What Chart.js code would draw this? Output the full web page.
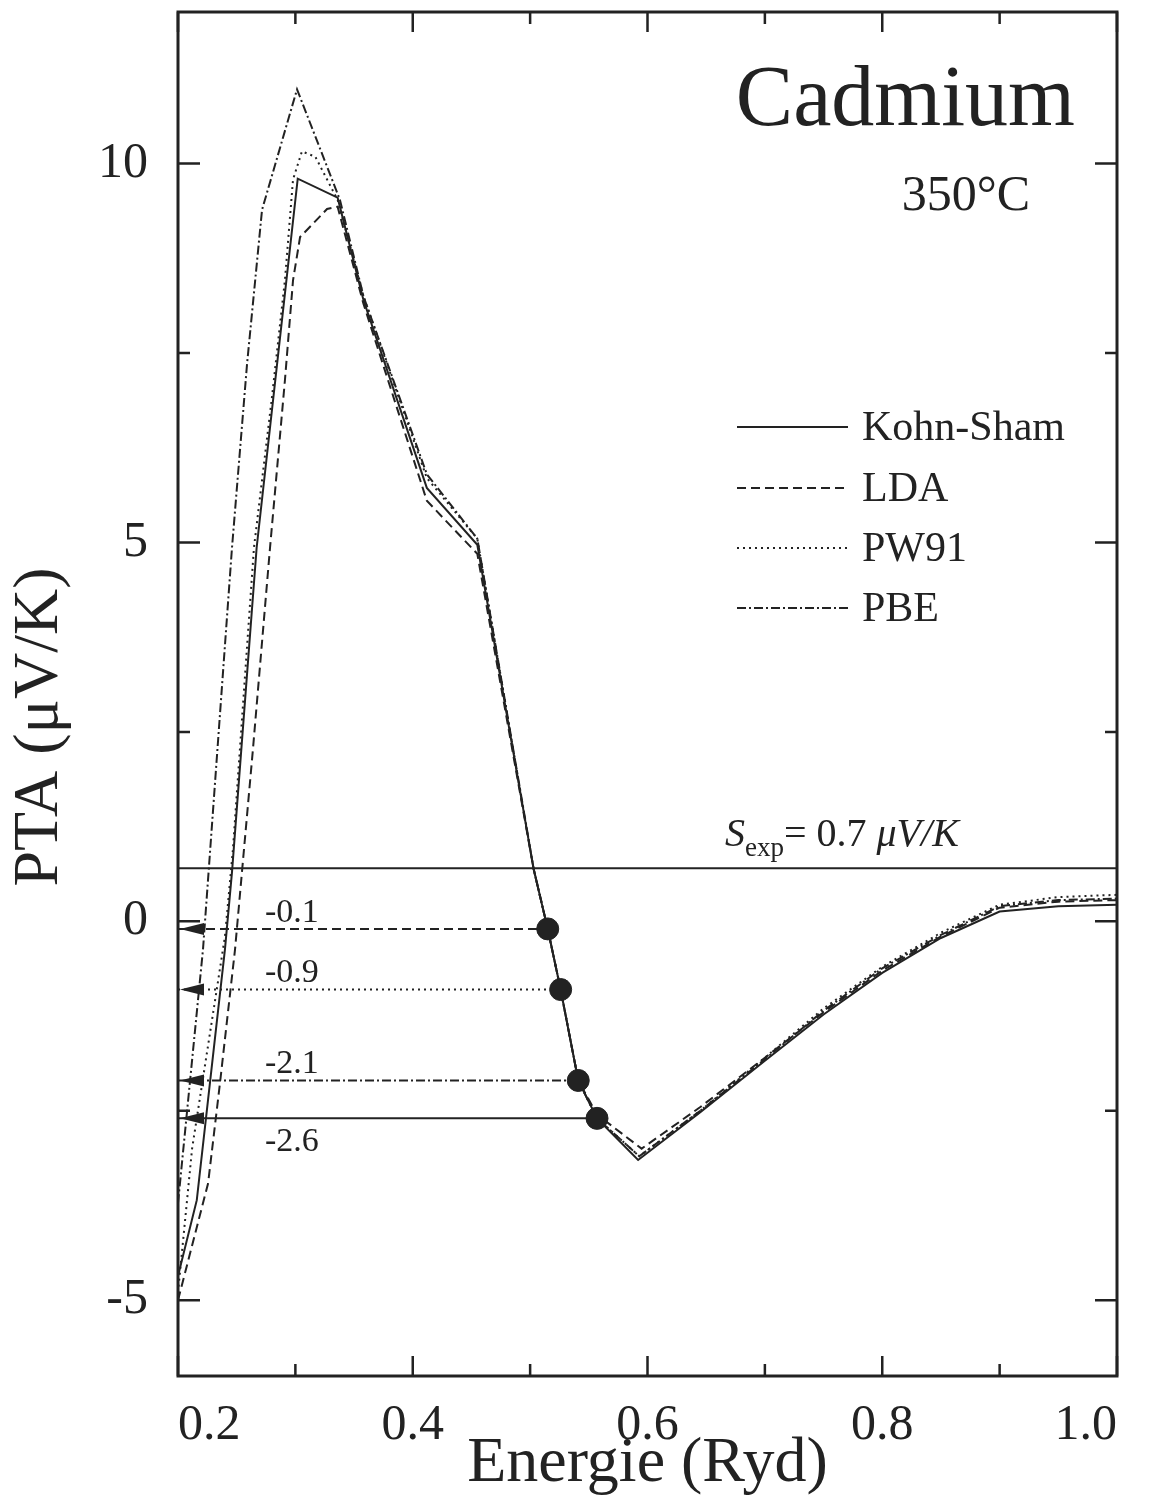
<!DOCTYPE html>
<html lang="fr">
<head>
  <meta charset="UTF-8" />
  <title>Cadmium 350°C - PTA</title>
  <script src="https://cdn.jsdelivr.net/npm/chart.js"></script>
  <style>
    html, body { margin: 0; padding: 0; background: #fff; }
    #wrap { width: 1161px; height: 1505px; }
  </style>
</head>
<body>
  <div id="wrap"><canvas id="ptaChart" width="1161" height="1505"></canvas></div>

  <script>
    // values: energy (Ryd) -> PTA (µV/K)
    const ksEnergy = [0.2, 0.216, 0.24, 0.246, 0.267, 0.302, 0.336, 0.358, 0.412, 0.455, 0.503, 0.515, 0.526, 0.541, 0.557, 0.592, 0.645, 0.7, 0.75, 0.8, 0.85, 0.9, 0.95, 1.0];
    const ksPTA    = [-4.68, -3.68, -0.37, 0.65, 4.93, 9.8, 9.55, 8.2, 5.72, 4.97, 0.69, -0.1, -0.9, -2.1, -2.6, -3.15, -2.52, -1.84, -1.23, -0.68, -0.22, 0.13, 0.2, 0.22];

    const ldaEnergy = [0.2, 0.2256, 0.2358, 0.2486, 0.2639, 0.2784, 0.2911, 0.298, 0.304, 0.327, 0.336, 0.358, 0.412, 0.455, 0.503, 0.515, 0.526, 0.541, 0.557, 0.595, 0.645, 0.7, 0.75, 0.8, 0.85, 0.9, 0.95, 1.0];
    const ldaPTA    = [-5.0, -3.46, -2.13, -0.37, 2.28, 4.93, 7.14, 8.46, 9.03, 9.4, 9.43, 8.15, 5.55, 4.85, 0.69, -0.1, -0.9, -2.1, -2.55, -3.0, -2.45, -1.8, -1.2, -0.65, -0.2, 0.18, 0.26, 0.28];

    const pw91Energy = [0.2, 0.212, 0.24, 0.2468, 0.2647, 0.28, 0.2911, 0.298, 0.3056, 0.317, 0.336, 0.358, 0.412, 0.455, 0.503, 0.515, 0.526, 0.541, 0.557, 0.593, 0.645, 0.7, 0.75, 0.8, 0.85, 0.9, 0.95, 1.0];
    const pw91PTA    = [-4.9, -3.0, -0.2, 0.95, 4.93, 6.91, 8.46, 9.79, 10.16, 10.09, 9.52, 8.25, 5.85, 5.05, 0.69, -0.1, -0.9, -2.1, -2.6, -3.1, -2.5, -1.8, -1.15, -0.6, -0.15, 0.22, 0.32, 0.35];

    const pbeEnergy = [0.2, 0.2213, 0.246, 0.2588, 0.2716, 0.3014, 0.338, 0.358, 0.412, 0.455, 0.503, 0.515, 0.526, 0.541, 0.557, 0.593, 0.645, 0.7, 0.75, 0.8, 0.85, 0.9, 0.95, 1.0];
    const pbePTA    = [-3.72, -0.37, 4.93, 7.35, 9.39, 10.98, 9.52, 8.25, 5.9, 5.05, 0.69, -0.1, -0.9, -2.1, -2.6, -3.1, -2.5, -1.82, -1.18, -0.62, -0.18, 0.2, 0.28, 0.3];

    const sExp = 0.7;

    // marked points (LDA, PW91, PBE, Kohn-Sham) and their values
    const markEnergy = [0.515, 0.526, 0.541, 0.557];
    const markPTA    = [-0.1, -0.9, -2.1, -2.6];
    const markLabels = ['-0.1', '-0.9', '-2.1', '-2.6'];

    const xLabelTicks = [0.2, 0.4, 0.6, 0.8, 1.0];
    const xMinorTicks = [0.3, 0.5, 0.7, 0.9];
    const yLabelTicks = [-5, 0, 5, 10];
    const yMinorTicks = [-2.5, 2.5, 7.5];

    const ink = '#222';
    const serif = "'Liberation Serif', 'DejaVu Serif', serif";
    const dashes = { ks: [], lda: [9, 5], pw91: [2, 4], pbe: [9, 3, 2, 3] };

    const pts = (xs, ys) => xs.map((e, i) => ({ x: e, y: ys[i] }));

    const curve = (label, xs, ys, dash) => ({
      label, data: pts(xs, ys), borderColor: ink, borderWidth: 2,
      borderDash: dash, pointRadius: 0, tension: 0, fill: false, order: 2, inLegend: true
    });

    const markDash = [dashes.lda, dashes.pw91, dashes.pbe, dashes.ks];
    const markLines = markPTA.map((v, i) => ({
      label: 'mark' + i, data: [{ x: 0.2, y: v }, { x: markEnergy[i], y: v }],
      borderColor: ink, borderWidth: 2, borderDash: markDash[i], pointRadius: 0, order: 3
    }));

    const datasets = [
      curve('Kohn-Sham', ksEnergy, ksPTA, dashes.ks),
      curve('LDA', ldaEnergy, ldaPTA, dashes.lda),
      curve('PW91', pw91Energy, pw91PTA, dashes.pw91),
      curve('PBE', pbeEnergy, pbePTA, dashes.pbe),
      { label: 'Sexp', data: [{ x: 0.2, y: sExp }, { x: 1.0, y: sExp }], borderColor: ink, borderWidth: 2, pointRadius: 0, order: 3 },
      ...markLines,
      { label: 'marks', data: pts(markEnergy, markPTA), showLine: false, pointRadius: 11,
        pointBackgroundColor: '#222', pointBorderColor: '#222', order: 0 }
    ];

    const decor = {
      id: 'decor',
      afterDraw(chart) {
        const { ctx, chartArea: a, scales: { x, y } } = chart;
        ctx.save();
        ctx.strokeStyle = ink;
        ctx.fillStyle = ink;
        ctx.setLineDash([]);

        // frame
        ctx.lineWidth = 3;
        ctx.strokeRect(a.left, a.top, a.right - a.left, a.bottom - a.top);

        // inward ticks on all four sides
        ctx.lineWidth = 2.5;
        const tickX = (v, len) => {
          const px = x.getPixelForValue(v);
          ctx.beginPath();
          ctx.moveTo(px, a.bottom); ctx.lineTo(px, a.bottom - len);
          ctx.moveTo(px, a.top); ctx.lineTo(px, a.top + len);
          ctx.stroke();
        };
        const tickY = (v, len) => {
          const py = y.getPixelForValue(v);
          ctx.beginPath();
          ctx.moveTo(a.left, py); ctx.lineTo(a.left + len, py);
          ctx.moveTo(a.right, py); ctx.lineTo(a.right - len, py);
          ctx.stroke();
        };
        xLabelTicks.forEach(v => tickX(v, 20));
        xMinorTicks.forEach(v => tickX(v, 12));
        yLabelTicks.forEach(v => tickY(v, 22));
        yMinorTicks.forEach(v => tickY(v, 12));

        // arrow heads at the left axis
        markPTA.forEach(v => {
          const py = y.getPixelForValue(v);
          const px = x.getPixelForValue(0.2) + 2;
          ctx.beginPath();
          ctx.moveTo(px, py);
          ctx.lineTo(px + 24, py - 6);
          ctx.lineTo(px + 24, py + 6);
          ctx.closePath();
          ctx.fill();
        });

        // value labels next to the arrows
        ctx.font = '34px ' + serif;
        ctx.textAlign = 'center';
        ctx.textBaseline = 'middle';
        const lx = x.getPixelForValue(0.297);
        markPTA.forEach((v, i) => {
          const py = y.getPixelForValue(v);
          ctx.fillText(markLabels[i], lx, i < 3 ? py - 16 : py + 24);
        });

        // S_exp label
        ctx.textAlign = 'left';
        ctx.textBaseline = 'alphabetic';
        let sx = x.getPixelForValue(0.666);
        const sy = y.getPixelForValue(sExp) - 22;
        const part = (txt, font, dy) => {
          ctx.font = font;
          ctx.fillText(txt, sx, sy + dy);
          sx += ctx.measureText(txt).width;
        };
        part('S', 'italic 40px ' + serif, 0);
        part('exp', '27px ' + serif, 10);
        part('= 0.7 ', '40px ' + serif, 0);
        part('\u03bcV/K', 'italic 40px ' + serif, 0);

        // legend
        const rows = [427, 488, 548, 608];
        ctx.font = '42px ' + serif;
        ctx.textBaseline = 'middle';
        chart.data.datasets.filter(d => d.inLegend).forEach((d, i) => {
          ctx.lineWidth = 2;
          ctx.setLineDash(d.borderDash);
          ctx.beginPath();
          ctx.moveTo(737, rows[i]);
          ctx.lineTo(848, rows[i]);
          ctx.stroke();
          ctx.setLineDash([]);
          ctx.fillText(d.label, 862, rows[i] + 2);
        });

        // title
        ctx.textAlign = 'right';
        ctx.textBaseline = 'alphabetic';
        ctx.font = '86px ' + serif;
        ctx.fillText('Cadmium', 1075, 125);
        ctx.font = '50px ' + serif;
        ctx.fillText('350\u00b0C', 1030, 210);

        // y axis title
        ctx.save();
        ctx.translate(40, 727);
        ctx.rotate(-Math.PI / 2);
        ctx.textAlign = 'center';
        ctx.textBaseline = 'middle';
        ctx.font = '64px ' + serif;
        ctx.fillText('PTA (\u03bcV/K)', 0, 0);
        ctx.restore();

        ctx.restore();
      }
    };

    const ctx = document.getElementById('ptaChart').getContext('2d');
    const ptaChart = new Chart(ctx, {
      type: 'line',
      data: { datasets },
      plugins: [decor],
      options: {
        responsive: false,
        animation: false,
        layout: { padding: { top: 12, right: 44, left: 0, bottom: 0 } },
        plugins: { legend: { display: false }, tooltip: { enabled: false } },
        scales: {
          x: {
            type: 'linear', min: 0.2, max: 1.0,
            grid: { display: false }, border: { display: false },
            afterBuildTicks: s => { s.ticks = xLabelTicks.map(v => ({ value: v })); },
            ticks: {
              callback: v => v.toFixed(1), autoSkip: false, maxRotation: 0, align: 'inner',
              font: { family: serif, size: 50 }, color: ink, padding: 12
            },
            title: { display: true, text: 'Energie (Ryd)', font: { family: serif, size: 64 }, color: ink, padding: { top: 0, bottom: 2 } },
            afterFit: s => { s.height = 129; s.paddingLeft = 0; s.paddingRight = 0; }
          },
          y: {
            type: 'linear', min: -6, max: 12,
            grid: { display: false }, border: { display: false },
            afterBuildTicks: s => { s.ticks = yLabelTicks.map(v => ({ value: v })); },
            ticks: {
              callback: v => String(v), autoSkip: false,
              font: { family: serif, size: 50 }, color: ink, padding: 22
            },
            title: { display: false },
            afterFit: s => { s.width = 178; s.paddingTop = 0; s.paddingBottom = 0; }
          }
        }
      }
    });
  </script>
</body>
</html>
